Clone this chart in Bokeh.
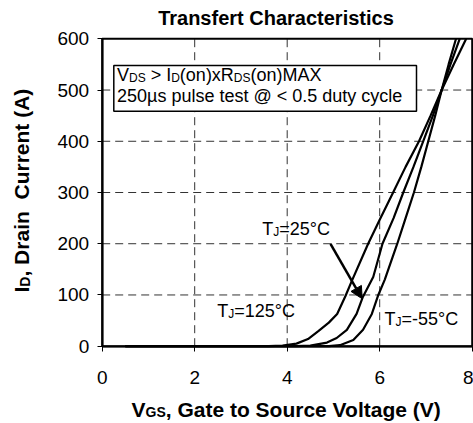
import math
from bokeh.plotting import figure
from bokeh.models import Range1d, FixedTicker, Label, BoxAnnotation, Arrow, NormalHead
from bokeh.embed import file_html
from bokeh.resources import INLINE

# ---------------- data ----------------
vgs_125 = [0.5, 3.6, 3.9, 4.2, 4.45, 4.68, 4.9, 5.08, 5.26, 5.4, 5.75, 6.0, 6.29, 6.56, 6.85, 7.1, 7.34, 7.6, 7.87]
id_125 = [0, 0, 1, 5, 14, 30, 46, 63, 98, 128, 200, 247, 300, 350, 400, 450, 500, 550, 600]

vgs_25 = [0.5, 4.2, 4.5, 4.86, 5.07, 5.29, 5.5, 5.63, 5.86, 6.06, 6.3, 6.51, 6.73, 6.94, 7.15, 7.34, 7.53, 7.73]
id_25 = [0, 0, 1, 7, 16, 32, 63, 95, 135, 200, 250, 300, 350, 400, 450, 500, 550, 600]

vgs_m55 = [0.5, 4.9, 5.14, 5.43, 5.64, 5.83, 5.97, 6.11, 6.38, 6.56, 6.74, 6.9, 7.05, 7.2, 7.34, 7.49, 7.65]
id_m55 = [0, 0, 2, 12, 32, 63, 100, 130, 200, 250, 300, 350, 400, 450, 500, 550, 600]

x_ticks = [0, 2, 4, 6, 8]
y_ticks = [0, 100, 200, 300, 400, 500, 600]

title_text = "Transfert Characteristics"
# ----------------------------------------------------------------

FONT = "Liberation Sans"
W, H = 473, 423
# where the plot box sits on the page (pixels)
PX_L, PX_R, PY_T, PY_B = 101.7, 471.7, 38.3, 345.7
X0, X1, Y0, Y1 = x_ticks[0], x_ticks[-1], y_ticks[0], y_ticks[-1]
SX = (PX_R - PX_L) / (X1 - X0)
SY = (PY_B - PY_T) / (Y1 - Y0)


def dx(px):
    return X0 + (px - PX_L) / SX


def dy(py):
    return Y0 + (PY_B - py) / SY


REG = {' ': 278, '>': 584, '<': 584, '=': 584, '(': 333, ')': 333, '.': 278, '-': 333,
       '@': 1015, '°': 400, 'µ': 576,
       'A': 667, 'C': 722, 'D': 722, 'I': 278, 'J': 500, 'M': 833, 'R': 722, 'S': 667,
       'T': 611, 'V': 667, 'X': 667,
       'c': 500, 'd': 556, 'e': 556, 'l': 222, 'n': 556, 'o': 556, 'p': 556, 's': 500,
       't': 278, 'u': 556, 'x': 500, 'y': 500}
for ch in "0123456789":
    REG[ch] = 556
BOLD = {' ': 278, ',': 278, '(': 333, ')': 333,
        'A': 722, 'C': 722, 'D': 722, 'G': 778, 'I': 278, 'S': 667, 'T': 611, 'V': 667,
        'a': 556, 'c': 556, 'e': 556, 'f': 333, 'g': 611, 'h': 611, 'i': 278, 'l': 278,
        'n': 611, 'o': 611, 'r': 389, 's': 556, 't': 333, 'u': 611}


def tw(s, size, bold):
    t = BOLD if bold else REG
    return sum(t.get(ch, 556) for ch in s) * size / 1000.0


p = figure(width=W, height=H, output_backend="svg", toolbar_location=None,
           x_range=Range1d(dx(0), dx(W)), y_range=Range1d(dy(H), dy(0)),
           min_border=0, min_border_left=0, min_border_right=0,
           min_border_top=0, min_border_bottom=0,
           background_fill_color="white", border_fill_color="white")
p.title.visible = False
p.outline_line_color = None
p.grid.visible = False

BASE_FIX = 0.37  # rendered baseline sits lower than requested; compensate (fraction of font size)


def rich(px, py, pieces, size, bold=False, rotated=False, align="left"):
    sub_size = round(size * 0.66)
    widths = [tw(t, sub_size if sub else size, bold) for t, sub in pieces]
    total = sum(widths)
    off = 0 if align == "left" else -total / 2
    if rotated:
        px = px - BASE_FIX * size
    else:
        py = py - BASE_FIX * size
    for (t, sub), w in zip(pieces, widths):
        fs = sub_size if sub else size
        shift = round(size * 0.16) if sub else 0
        stripped = t.lstrip(" ")
        lead = tw(t[:len(t) - len(stripped)], fs, bold)
        kw = dict(x=dx(px), y=dy(py), text=stripped, text_font=FONT, text_font_size=f"{fs}px",
                  text_color="black", text_align="left", text_baseline="alphabetic",
                  text_font_style="bold" if bold else "normal")
        if rotated:
            lab = Label(angle=math.pi / 2, x_offset=shift, y_offset=off + lead, **kw)
        else:
            lab = Label(x_offset=off + lead, y_offset=-shift, **kw)
        p.add_layout(lab)
        off += w


# axes drawn at the edges of the plot box
p.xaxis.fixed_location = Y0
p.yaxis.fixed_location = X0
p.xaxis.bounds = (X0, X1)
p.yaxis.bounds = (Y0, Y1)
p.xaxis.ticker = FixedTicker(ticks=x_ticks)
p.yaxis.ticker = FixedTicker(ticks=y_ticks)
for ax in (p.xaxis, p.yaxis):
    ax.major_label_text_font = FONT
    ax.major_label_text_font_size = "19px"
    ax.major_label_text_color = "black"
    ax.axis_line_color = "black"
    ax.axis_line_width = 2
    ax.major_tick_line_color = "black"
    ax.major_tick_line_width = 1
    ax.major_tick_in = 0
    ax.major_tick_out = 5
    ax.minor_tick_line_color = None
p.xaxis.major_label_standoff = 20
p.yaxis.major_label_standoff = 8

# dashed grid inside the plot box
gx = x_ticks[1:-1]
gy = y_ticks[1:-1]
p.segment(x0=gx, y0=[Y0] * len(gx), x1=gx, y1=[Y1] * len(gx),
          line_color="#333333", line_width=1, line_dash="8 5")
p.segment(x0=[X0] * len(gy), y0=gy, x1=[X1] * len(gy), y1=gy,
          line_color="#333333", line_width=1, line_dash="8 5")

# curves
for xs, ys in ((vgs_125, id_125), (vgs_25, id_25), (vgs_m55, id_m55)):
    p.line(xs, ys, line_color="black", line_width=2.2)

# plot box outline
p.add_layout(BoxAnnotation(left=X0, right=X1, bottom=Y0, top=Y1,
                           fill_alpha=0, line_color="black", line_alpha=1.0, line_width=2))

# condition box
p.add_layout(BoxAnnotation(left=dx(113.3), right=dx(416), top=dy(65), bottom=dy(110.7),
                           fill_color="white", fill_alpha=1.0,
                           line_color="black", line_alpha=1.0, line_width=1.5))
rich(116.5, 81.5, [("V", 0), ("DS", 1), (" > I", 0), ("D", 1), ("(on)xR", 0), ("DS", 1), ("(on)MAX", 0)], 18)
rich(116.5, 101.7, [("250µs pulse test @ < 0.5 duty cycle", 0)], 18)

# curve labels
rich(261.7, 235, [("T", 0), ("J", 1), ("=25°C", 0)], 18)
rich(216.7, 316.7, [("T", 0), ("J", 1), ("=125°C", 0)], 18)
rich(384, 325, [("T", 0), ("J", 1), ("=-55°C", 0)], 18)

p.add_layout(Arrow(x_start=dx(330), y_start=dy(243.3), x_end=dx(361.7), y_end=dy(298.3),
                   line_color="black", line_width=2.5,
                   end=NormalHead(size=12, fill_color="black", line_color="black")))

# title and axis titles
rich(276, 25, [(title_text, 0)], 20, bold=True, align="center")
rich(131, 416.7, [("V", 0), ("GS", 1), (", Gate to Source Voltage (V)", 0)], 21, bold=True)
rich(29, 292, [("I", 0), ("D", 1), (", Drain", 0), ("  Current (A)", 0)], 21, bold=True, rotated=True)

open("out.html", "w").write(file_html(p, INLINE))
